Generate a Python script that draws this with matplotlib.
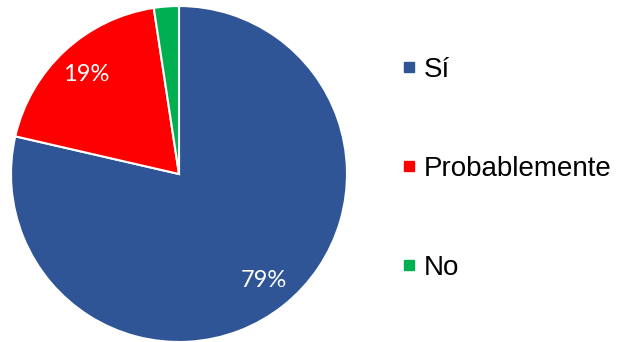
import matplotlib
matplotlib.use("Agg")
import matplotlib.pyplot as plt
from matplotlib.lines import Line2D

# data
labels = ["Sí", "Probablemente", "No"]
values = [78.6, 19.0, 2.4]
colors = ["#2F5597", "#FF0000", "#00B050"]

W, H = 621, 342
fig = plt.figure(figsize=(W / 100, H / 100), dpi=100)
fig.patch.set_facecolor("white")

cx, cy, r = 179, 174, 168
ax = fig.add_axes([(cx - r) / W, (H - cy - r) / H, 2 * r / W, 2 * r / H])

wedges, _, autotexts = ax.pie(
    values, colors=colors, startangle=90, counterclock=False,
    radius=1, pctdistance=0.81,
    autopct=lambda p: f"{p:.0f}%" if p > 5 else "",
    wedgeprops=dict(edgecolor="white", linewidth=1.5),
    textprops=dict(color="white", fontsize=17, family="Lato"))
ax.set_xlim(-1.0, 1.0)
ax.set_ylim(-1.0, 1.0)
ax.set_aspect("equal")
ax.axis("off")

handles = [Line2D([], [], marker="s", linestyle="none", markersize=7,
                  markerfacecolor=c, markeredgecolor=c) for c in colors]
fig.legend(handles, labels, loc="center left",
           bbox_to_anchor=(388 / W, 1 - 169 / H),
           frameon=False, handlelength=0.5, handletextpad=0.3,
           labelspacing=2.63, borderpad=0,
           prop=dict(family="Liberation Sans", size=20))

fig.savefig("out.png", dpi=100, facecolor=fig.get_facecolor())
